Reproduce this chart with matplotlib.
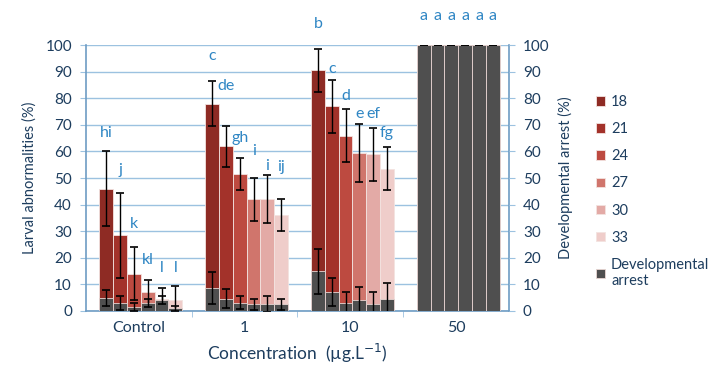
import matplotlib.pyplot as plt
import numpy as np

# ---------------------------------------------
# Data
# ---------------------------------------------
groups = ["Control", "1", "10", "50"]
temps = ["18", "21", "24", "27", "30", "33"]

# larval abnormalities (%) per group, one value per temperature
abn = [
    [46, 28.5, 14, 7, 4.5, 4],
    [78, 62, 51.5, 42, 42, 36],
    [90.5, 77, 66, 59.5, 59, 53.5],
    [100, 100, 100, 100, 100, 100],
]
abn_err = [
    [14, 16, 10, 4.5, 4, 5.5],
    [8.5, 7.7, 6, 8, 9, 6],
    [8, 10, 10, 11, 10, 8],
    [0, 0, 0, 0, 0, 0],
]

# developmental arrest (%)
arrest = [
    [5, 3, 1.5, 3, 4, 1],
    [8.5, 4.7, 3.1, 2.5, 2.5, 2.5],
    [15, 7.2, 2.9, 4, 2.5, 4.5],
    [100, 100, 100, 100, 100, 100],
]
arrest_err = [
    [3, 2.5, 1.5, 1.5, 1.5, 1],
    [6, 3.5, 2.4, 2, 3, 2],
    [8.5, 5.3, 4.3, 5, 4.7, 6],
    [0, 0, 0, 0, 0, 0],
]

# significance letters and their heights (% axis)
letters = [
    ["hi", "j", "k", "kl", "l", "l"],
    ["c", "de", "gh", "i", "i", "ij"],
    ["b", "c", "d", "e", "ef", "fg"],
    ["a", "a", "a", "a", "a", "a"],
]
letter_y = [
    [67, 53, 32.7, 19, 16.3, 16.3],
    [96, 84.5, 65, 60, 54.5, 54],
    [108, 91, 81, 74, 74, 67],
    [111, 111, 111, 111, 111, 111],
]

colors = ["#8e2b24", "#a3322a", "#bd4a40", "#d0756c", "#e3aaa6", "#efcdca"]
gray = "#4f4f4f"
blue_txt = "#1d3d5e"
letter_col = "#2f86c4"
grid_col = "#9cc2e0"

plt.rcParams["font.family"] = ["Lato", "DejaVu Sans"]

fig = plt.figure(figsize=(7.15, 3.67), dpi=100)
ax = fig.add_axes([0.120, 0.1526, 0.592, 0.7244])

w = 0.1305
x_base = np.arange(len(groups)) + 0.02

for j, t in enumerate(temps):
    xs = x_base + (j - 2.5) * w
    vals = [row[j] for row in abn]
    errs = [row[j] for row in abn_err]
    ax.bar(xs, vals, width=w, color=colors[j], edgecolor="#f3e3e0",
           linewidth=0.6, zorder=2, label=t)
    ax.errorbar(xs, vals, yerr=errs, fmt="none", ecolor="black",
                elinewidth=1, capsize=3, capthick=1.2, zorder=3)

for j in range(len(temps)):
    xs = x_base + (j - 2.5) * w
    vals = [row[j] for row in arrest]
    errs = [row[j] for row in arrest_err]
    ax.bar(xs, vals, width=w, color=gray, edgecolor="#e9d6d3",
           linewidth=0.6, zorder=4,
           label="Developmental\narrest" if j == 0 else None)
    ax.errorbar(xs, vals, yerr=errs, fmt="none", ecolor="black",
                elinewidth=1, capsize=3, capthick=1.2, zorder=5)

for g in range(len(groups)):
    for j in range(len(temps)):
        ax.text(x_base[g] + (j - 2.5) * w, letter_y[g][j], letters[g][j],
                ha="center", va="center", fontsize=11.5, color=letter_col,
                clip_on=False, zorder=6)

ax.set_xlim(-0.5, 3.5)
ax.set_ylim(0, 100)
ax.set_yticks(np.arange(0, 101, 10))
ax.set_xticks(np.arange(len(groups)))
ax.set_xticklabels(groups)
ax.set_xticks([0.5, 1.5, 2.5], minor=True)
ax.tick_params(axis="x", which="major", length=0, pad=7,
               labelsize=11.5, labelcolor=blue_txt)
ax.tick_params(axis="x", which="minor", length=4, color=grid_col)
ax.tick_params(axis="y", length=4, pad=6, color=grid_col, labelsize=11,
               labelcolor=blue_txt)
ax.yaxis.grid(True, color=grid_col, linewidth=1)
ax.set_axisbelow(True)
for side in ["left", "bottom", "right"]:
    ax.spines[side].set_color("#6e9cc4")
    ax.spines[side].set_linewidth(1.2)
ax.spines["top"].set_visible(False)

ax.set_ylabel("Larval abnormalities (%)", fontsize=10.5, color=blue_txt,
              labelpad=6)
ax.set_xlabel("Concentration  (\u00b5g.L$^{-1}$)", fontsize=12.5,
              color=blue_txt, labelpad=5)

ax2 = ax.twinx()
ax2.set_ylim(0, 100)
ax2.set_yticks(np.arange(0, 101, 10))
ax2.tick_params(axis="y", length=4, pad=6, color=grid_col, labelsize=11,
                labelcolor=blue_txt)
for s in ax2.spines.values():
    s.set_visible(False)
ax2.set_ylabel("Developmental arrest (%)", fontsize=10.5, color=blue_txt,
               labelpad=6)

handles, labels = ax.get_legend_handles_labels()
fig.legend(handles, labels, loc="upper left",
           bbox_to_anchor=(0.826, 0.757), frameon=False, fontsize=10.5,
           labelcolor=blue_txt, handlelength=0.6, handleheight=0.6,
           handletextpad=0.4, labelspacing=0.9, borderaxespad=0)

fig.savefig("out.png", dpi=100)
